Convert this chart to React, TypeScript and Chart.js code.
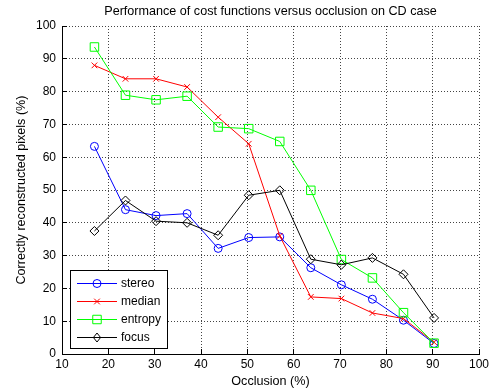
import React, { useEffect, useRef } from "react";
import { Chart, registerables } from "chart.js";

Chart.register(...registerables);

const occlusion = [17, 23.7, 30.3, 37, 43.7, 50.3, 57, 63.7, 70.3, 77, 83.7, 90.3];
const stereo = [63.3, 44.0, 42.2, 42.8, 32.2, 35.5, 35.7, 26.3, 21.1, 16.7, 10.3, 3.2];
const median = [88.0, 83.9, 83.9, 81.4, 72.2, 64.1, 36.0, 17.4, 16.9, 12.5, 10.8, 3.6];
const entropy = [93.6, 78.9, 77.5, 78.6, 69.2, 68.7, 64.8, 49.9, 28.8, 23.2, 12.6, 3.3];
const focus = [37.5, 46.8, 40.5, 40.0, 36.2, 48.4, 49.9, 28.9, 27.2, 29.3, 24.3, 11.0];

const seriesNames = ["stereo", "median", "entropy", "focus"];
const seriesColors = ["#0000ff", "#ff0000", "#00ff00", "#000000"];
const seriesMarkers = ["circle", "crossRot", "rect", "rectRot"];
const seriesRadius = [4, 4, 6, 4.5];

const titleText = "Performance of cost functions versus occlusion on CD case";
const xTitle = "Occlusion (%)";
const yTitle = "Correctly reconstructed pixels (%)";

const FONT = "12px 'Liberation Sans', Arial, sans-serif";
const TITLE_FONT = "12.6px 'Liberation Sans', Arial, sans-serif";

function drawMarker(ctx: CanvasRenderingContext2D, kind: string, x: number, y: number, r: number, color: string) {
  ctx.save();
  ctx.strokeStyle = color;
  ctx.lineWidth = 1;
  ctx.beginPath();
  if (kind === "circle") {
    ctx.arc(x, y, r, 0, Math.PI * 2);
  } else if (kind === "crossRot") {
    const d = r * Math.SQRT1_2;
    ctx.moveTo(x - d, y - d);
    ctx.lineTo(x + d, y + d);
    ctx.moveTo(x + d, y - d);
    ctx.lineTo(x - d, y + d);
  } else if (kind === "rect") {
    const s = r * Math.SQRT1_2;
    ctx.rect(x - s, y - s, 2 * s, 2 * s);
  } else {
    ctx.moveTo(x, y - r);
    ctx.lineTo(x + r * 0.8, y);
    ctx.lineTo(x, y + r);
    ctx.lineTo(x - r * 0.8, y);
    ctx.closePath();
  }
  ctx.stroke();
  ctx.restore();
}

const overlayPlugin = {
  id: "overlay",
  afterDraw(chart: any) {
    const { ctx, chartArea: a, scales } = chart;
    ctx.save();
    // inward tick marks
    ctx.strokeStyle = "#000";
    ctx.lineWidth = 1;
    ctx.beginPath();
    scales.x.ticks.forEach((t: any) => {
      const px = Math.round(scales.x.getPixelForValue(t.value) - 0.5) + 0.5;
      ctx.moveTo(px, a.bottom);
      ctx.lineTo(px, a.bottom - 5);
    });
    scales.y.ticks.forEach((t: any) => {
      const py = Math.round(scales.y.getPixelForValue(t.value) - 0.5) + 0.5;
      ctx.moveTo(a.left, py);
      ctx.lineTo(a.left + 5, py);
    });
    ctx.stroke();

    // titles
    ctx.fillStyle = "#000";
    ctx.font = TITLE_FONT;
    ctx.textAlign = "center";
    ctx.textBaseline = "middle";
    const cx = (a.left + a.right) / 2;
    ctx.fillText(titleText, cx, 12);
    ctx.fillText(xTitle, cx, 382);
    ctx.save();
    ctx.translate(22, (a.top + a.bottom) / 2);
    ctx.rotate(-Math.PI / 2);
    ctx.fillText(yTitle, 0, 0);
    ctx.restore();

    // legend
    ctx.font = FONT;
    const lx = a.left + 8;
    const lw = 97;
    const lh = 78;
    const ly = a.bottom - 6 - lh;
    ctx.fillStyle = "#fff";
    ctx.fillRect(lx, ly, lw, lh);
    ctx.strokeStyle = "#000";
    ctx.strokeRect(lx + 0.5, ly + 0.5, lw, lh);
    ctx.textAlign = "left";
    seriesNames.forEach((name, i) => {
      const yy = ly + 12.5 + i * 18;
      ctx.strokeStyle = seriesColors[i];
      ctx.beginPath();
      ctx.moveTo(lx + 7, Math.round(yy) + 0.5);
      ctx.lineTo(lx + 47, Math.round(yy) + 0.5);
      ctx.stroke();
      drawMarker(ctx, seriesMarkers[i], lx + 27, Math.round(yy) + 0.5, seriesRadius[i], seriesColors[i]);
      ctx.fillStyle = "#000";
      ctx.fillText(name, lx + 51, yy + 1);
    });
    ctx.restore();
  },
};

export default function App() {
  const ref = useRef<HTMLCanvasElement>(null);
  useEffect(() => {
    document.body.style.margin = "0";
    const all = [stereo, median, entropy, focus];
    const datasets = all.map((vals, i) => ({
      label: seriesNames[i],
      data: vals.map((v, j) => ({ x: occlusion[j], y: v })),
      borderColor: seriesColors[i],
      backgroundColor: "rgba(0,0,0,0)",
      borderWidth: 1,
      pointStyle: seriesMarkers[i],
      pointRadius: seriesRadius[i],
      pointBorderColor: seriesColors[i],
      pointBackgroundColor: "rgba(0,0,0,0)",
      pointBorderWidth: 1,
      showLine: true,
      tension: 0,
      order: 4 - i,
    }));
    const chart = new Chart(ref.current!, {
      type: "scatter",
      data: { datasets },
      options: {
        animation: false,
        responsive: false,
        events: [],
        layout: { padding: { top: 26, right: 17, left: 0, bottom: 0 } },
        plugins: {
          legend: { display: false },
          title: { display: false },
          tooltip: { enabled: false },
        },
        scales: {
          x: {
            type: "linear",
            min: 10,
            max: 100,
            ticks: { stepSize: 10, color: "#000", font: { family: "'Liberation Sans', Arial, sans-serif", size: 12 }, padding: 3, maxRotation: 0 },
            grid: { color: "#444", drawTicks: false, lineWidth: 1 },
            border: { display: true, color: "#000", width: 1, dash: [1, 2] },
            afterFit: (s: any) => { s.height = 37; },
          },
          y: {
            type: "linear",
            min: 0,
            max: 100,
            ticks: { stepSize: 10, color: "#000", font: { family: "'Liberation Sans', Arial, sans-serif", size: 12 }, padding: 6 },
            grid: { color: "#444", drawTicks: false, lineWidth: 1 },
            border: { display: true, color: "#000", width: 1, dash: [1, 2] },
            afterFit: (s: any) => { s.width = 62; },
          },
        },
      },
      plugins: [overlayPlugin],
    });
    return () => chart.destroy();
  }, []);
  return (
    <div style={{ width: 496, height: 391, background: "#fff" }}>
      <canvas ref={ref} width={496} height={391} style={{ width: 496, height: 391, display: "block" }} />
    </div>
  );
}
